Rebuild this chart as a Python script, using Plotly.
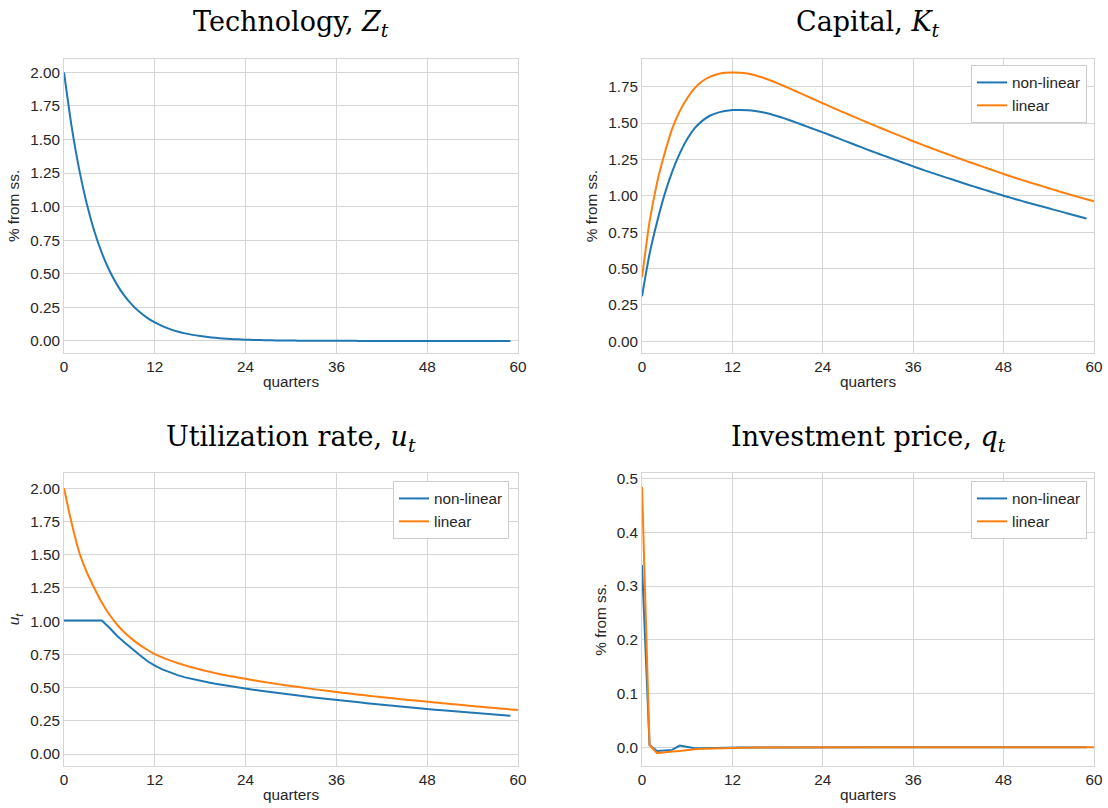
import plotly.graph_objects as go

# ---------------- data ----------------
quarters_nl = list(range(60))    # non-linear series: t = 0..59
quarters_lin = list(range(61))   # linear series: t = 0..60
x_ticks = [0, 12, 24, 36, 48, 60]

tech_z = [2.0, 1.6, 1.28, 1.024, 0.8192, 0.6554, 0.5243, 0.4194, 0.3355, 0.2684,
          0.2147, 0.1718, 0.1374, 0.11, 0.088, 0.0704, 0.0563, 0.045, 0.036, 0.0288,
          0.0231, 0.0184, 0.0148, 0.0118, 0.0094, 0.0076, 0.006, 0.0048, 0.0039, 0.0031,
          0.0025, 0.002, 0.0016, 0.0013, 0.001, 0.0008, 0.0007, 0.0005, 0.0004, 0.0003,
          0.0003, 0.0002, 0.0002, 0.0001, 0.0001, 0.0001, 0.0001, 0.0001, 0.0, 0.0,
          0.0, 0.0, 0.0, 0.0, 0.0, 0.0, 0.0, 0.0, 0.0, 0.0]

capital_nonlinear = [0.31, 0.60, 0.82, 1.01, 1.165, 1.29, 1.39, 1.465, 1.515, 1.550,
                     1.570, 1.582, 1.589, 1.590, 1.588, 1.583, 1.574, 1.562, 1.547, 1.530,
                     1.512, 1.493, 1.474, 1.455, 1.436, 1.416, 1.396, 1.376, 1.356, 1.336,
                     1.316, 1.297, 1.278, 1.259, 1.240, 1.221, 1.202, 1.184, 1.166, 1.149,
                     1.132, 1.115, 1.098, 1.081, 1.065, 1.049, 1.033, 1.017, 1.001, 0.986,
                     0.971, 0.956, 0.942, 0.928, 0.914, 0.900, 0.886, 0.872, 0.858, 0.844]
capital_linear = [0.44, 0.82, 1.09, 1.29, 1.46, 1.58, 1.67, 1.74, 1.787, 1.817,
                  1.835, 1.845, 1.847, 1.846, 1.840, 1.829, 1.813, 1.794, 1.773, 1.751,
                  1.728, 1.705, 1.682, 1.659, 1.636, 1.613, 1.590, 1.568, 1.546, 1.524,
                  1.502, 1.480, 1.459, 1.438, 1.417, 1.396, 1.375, 1.355, 1.335, 1.316,
                  1.297, 1.278, 1.259, 1.240, 1.222, 1.204, 1.186, 1.168, 1.150, 1.133,
                  1.116, 1.100, 1.084, 1.068, 1.052, 1.036, 1.021, 1.006, 0.991, 0.976,
                  0.962]

util_nonlinear = [1.005, 1.005, 1.005, 1.005, 1.005, 1.005, 0.95, 0.89, 0.84, 0.79,
                  0.745, 0.70, 0.665, 0.637, 0.613, 0.594, 0.577, 0.563, 0.551, 0.540,
                  0.529, 0.519, 0.509, 0.500, 0.492, 0.484, 0.476, 0.468, 0.461, 0.454,
                  0.447, 0.440, 0.433, 0.426, 0.419, 0.413, 0.407, 0.401, 0.395, 0.389,
                  0.383, 0.377, 0.372, 0.366, 0.360, 0.355, 0.350, 0.344, 0.339, 0.334,
                  0.329, 0.325, 0.320, 0.316, 0.311, 0.306, 0.302, 0.297, 0.293, 0.288]
util_linear = [2.00, 1.74, 1.52, 1.37, 1.25, 1.14, 1.05, 0.975, 0.915, 0.865,
               0.822, 0.785, 0.752, 0.727, 0.705, 0.685, 0.667, 0.651, 0.636, 0.622,
               0.609, 0.597, 0.586, 0.576, 0.566, 0.556, 0.5465, 0.5375, 0.5285, 0.520,
               0.512, 0.504, 0.496, 0.4885, 0.481, 0.474, 0.467, 0.460, 0.4535, 0.447,
               0.4405, 0.434, 0.428, 0.422, 0.416, 0.410, 0.405, 0.3995, 0.394, 0.3885,
               0.383, 0.3775, 0.372, 0.3665, 0.361, 0.356, 0.351, 0.346, 0.341, 0.336,
               0.331]

price_nonlinear = [0.339, 0.004, -0.007, -0.006, -0.005, 0.003, 0.0, -0.002, -0.002, -0.0015,
                   -0.001, -0.001, -0.0008, -0.0006, -0.0005, -0.0004, -0.0003, -0.0002, -0.0002, -0.0001,
                   -0.0001, -0.0001, 0.0, 0.0, 0.0, 0.0, 0.0, 0.0, 0.0, 0.0,
                   0.0, 0.0, 0.0, 0.0, 0.0, 0.0, 0.0, 0.0, 0.0, 0.0,
                   0.0, 0.0, 0.0, 0.0, 0.0, 0.0, 0.0, 0.0, 0.0, 0.0,
                   0.0, 0.0, 0.0, 0.0, 0.0, 0.0, 0.0, 0.0, 0.0, 0.0]
price_linear = [0.485, 0.004, -0.011, -0.009, -0.008, -0.007, -0.005, -0.004, -0.003, -0.0025,
                -0.002, -0.0015, -0.001, -0.0008, -0.0006, -0.0005, -0.0004, -0.0003, -0.0002, -0.0002,
                -0.0001, -0.0001, 0.0, 0.0, 0.0, 0.0, 0.0, 0.0, 0.0, 0.0,
                0.0, 0.0, 0.0, 0.0, 0.0, 0.0, 0.0, 0.0, 0.0, 0.0,
                0.0, 0.0, 0.0, 0.0, 0.0, 0.0, 0.0, 0.0, 0.0, 0.0,
                0.0, 0.0, 0.0, 0.0, 0.0, 0.0, 0.0, 0.0, 0.0, 0.0,
                0.0]

series_names = ["non-linear", "linear"]

# ---------------- styling ----------------
BLUE = "#1f77b4"
ORANGE = "#ff7f0e"
GRID = "#d5d5d5"
TXT = "#262626"
SANS = "Liberation Sans, Arial, sans-serif"
SERIF = "DejaVu Serif, serif"
FS = 15.3

FW, FH = 1108, 808

def px_x(p): return p / FW
def px_y(p): return 1 - p / FH

dom_x = {"L": [px_x(64), px_x(518)], "R": [px_x(642), px_x(1094)]}
dom_y = {"T": [px_y(353), px_y(59)], "B": [px_y(766), px_y(473)]}

fig = go.Figure()

line_w = 2.0
def line(color, shape="linear"):
    return dict(color=color, width=line_w, shape=shape, smoothing=0.6) if shape == "spline" else dict(color=color, width=line_w)

# panel 1
fig.add_trace(go.Scatter(x=quarters_nl, y=tech_z, mode="lines", line=line(BLUE, "spline"),
                         xaxis="x", yaxis="y", showlegend=False))
# panel 2
fig.add_trace(go.Scatter(x=quarters_nl, y=capital_nonlinear, mode="lines", name=series_names[0],
                         line=line(BLUE, "spline"), xaxis="x2", yaxis="y2", legend="legend"))
fig.add_trace(go.Scatter(x=quarters_lin, y=capital_linear, mode="lines", name=series_names[1],
                         line=line(ORANGE, "spline"), xaxis="x2", yaxis="y2", legend="legend"))
# panel 3
fig.add_trace(go.Scatter(x=quarters_nl, y=util_nonlinear, mode="lines", name=series_names[0],
                         line=line(BLUE), xaxis="x3", yaxis="y3", legend="legend2"))
fig.add_trace(go.Scatter(x=quarters_lin, y=util_linear, mode="lines", name=series_names[1],
                         line=line(ORANGE, "spline"), xaxis="x3", yaxis="y3", legend="legend2"))
# panel 4
fig.add_trace(go.Scatter(x=quarters_nl, y=price_nonlinear, mode="lines", name=series_names[0],
                         line=line(BLUE), xaxis="x4", yaxis="y4", legend="legend3"))
fig.add_trace(go.Scatter(x=quarters_lin, y=price_linear, mode="lines", name=series_names[1],
                         line=line(ORANGE), xaxis="x4", yaxis="y4", legend="legend3"))

def xaxis(dom, anchor):
    return dict(domain=dom, anchor=anchor, range=[0, 60], tickvals=x_ticks,
                showgrid=True, gridcolor=GRID, gridwidth=1, zeroline=False,
                showline=True, linecolor=GRID, linewidth=1, mirror=True,
                ticks="", tickfont=dict(family=SANS, size=FS, color=TXT),
                title=dict(text="quarters", font=dict(family=SANS, size=FS, color=TXT), standoff=1),
                automargin=False)

def yaxis(dom, anchor, rng, ticks, fmt, title):
    return dict(domain=dom, anchor=anchor, range=rng, tickvals=ticks,
                ticktext=[fmt.format(t) for t in ticks],
                showgrid=True, gridcolor=GRID, gridwidth=1, zeroline=False,
                showline=True, linecolor=GRID, linewidth=1, mirror=True,
                ticks="", tickfont=dict(family=SANS, size=FS, color=TXT),
                title=dict(text=title, font=dict(family=SANS, size=FS, color=TXT), standoff=6),
                automargin=False)

ticks_2 = [0, 0.25, 0.5, 0.75, 1.0, 1.25, 1.5, 1.75, 2.0]
ticks_cap = [0, 0.25, 0.5, 0.75, 1.0, 1.25, 1.5, 1.75]
ticks_q = [0, 0.1, 0.2, 0.3, 0.4, 0.5]

legend_style = dict(bgcolor="white", bordercolor="#cccccc", borderwidth=1,
                    font=dict(family=SANS, size=FS, color=TXT), xanchor="right", yanchor="top",
                    tracegroupgap=0, itemwidth=30)

fig.update_layout(
    width=FW, height=FH, margin=dict(l=0, r=0, t=0, b=0),
    paper_bgcolor="white", plot_bgcolor="white",
    xaxis=xaxis(dom_x["L"], "y"), yaxis=yaxis(dom_y["T"], "x", [-0.09, 2.1], ticks_2, "{:.2f}", "% from ss."),
    xaxis2=xaxis(dom_x["R"], "y2"), yaxis2=yaxis(dom_y["T"], "x2", [-0.08, 1.94], ticks_cap, "{:.2f}", "% from ss."),
    xaxis3=xaxis(dom_x["L"], "y3"), yaxis3=yaxis(dom_y["B"], "x3", [-0.09, 2.115], ticks_2, "{:.2f}", "<i>u<sub>t</sub></i>"),
    xaxis4=xaxis(dom_x["R"], "y4"), yaxis4=yaxis(dom_y["B"], "x4", [-0.035, 0.5105], ticks_q, "{:.1f}", "% from ss."),
    legend=dict(x=px_x(1087), y=px_y(65), **legend_style),
    legend2=dict(x=px_x(509), y=px_y(481), **legend_style),
    legend3=dict(x=px_x(1087), y=px_y(481), **legend_style),
    showlegend=True,
)

titles = [
    ("Technology, <i>Z<sub>t</sub></i>", (64 + 518) / 2, 23),
    ("Capital, <i>K<sub>t</sub></i>", (642 + 1094) / 2, 23),
    ("Utilization rate, <i>u<sub>t</sub></i>", (64 + 518) / 2, 438),
    ("Investment price, <i>q<sub>t</sub></i>", (642 + 1094) / 2, 438),
]
for txt, cx, cy in titles:
    fig.add_annotation(text=txt, x=px_x(cx), y=px_y(cy), xref="paper", yref="paper",
                       xanchor="center", yanchor="middle", showarrow=False,
                       font=dict(family=SERIF, size=27, color="black"))

# remove the default 8px body margin so the 1108x808 figure fills the window exactly
fig.write_html("out.html", config={"displayModeBar": False},
               post_script="document.body.style.margin='0px';document.body.style.overflow='hidden';")
